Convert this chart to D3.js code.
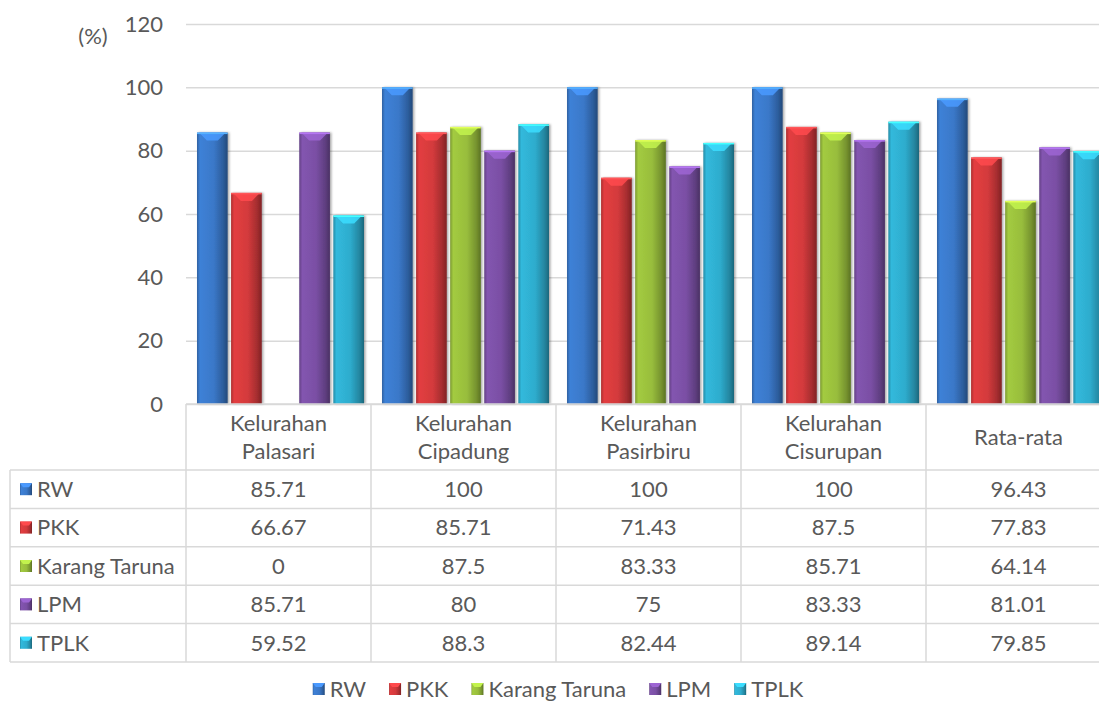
<!DOCTYPE html>
<html>
<head>
<meta charset="utf-8">
<script src="https://cdn.jsdelivr.net/npm/d3@7"></script>
<style>
  body { margin: 0; background: #fff; }
  svg { display: block; font-family: Lato, "Open Sans", sans-serif; }
</style>
</head>
<body>
<svg id="chart"></svg>
<script>
var categories = [["Kelurahan", "Palasari"], ["Kelurahan", "Cipadung"], ["Kelurahan", "Pasirbiru"], ["Kelurahan", "Cisurupan"], ["Rata-rata"]];
var seriesNames = ["RW", "PKK", "Karang Taruna", "LPM", "TPLK"];
var rwValues = [85.71, 100, 100, 100, 96.43];
var pkkValues = [66.67, 85.71, 71.43, 87.5, 77.83];
var ktValues = [0, 87.5, 83.33, 85.71, 64.14];
var lpmValues = [85.71, 80, 75, 83.33, 81.01];
var tplkValues = [59.52, 88.3, 82.44, 89.14, 79.85];
var yTicks = [0, 20, 40, 60, 80, 100, 120];

var allValues = [rwValues, pkkValues, ktValues, lpmValues, tplkValues];
var colors = ["#3a78c8", "#d33a3c", "#98bd3c", "#7a4fa4", "#2eaccd"];

var width = 1099, height = 709;
var textColor = "#595959";
var lineColor = "#d9d9d9";
var fontSize = "22px";

var svg = d3.select("#chart").attr("width", width).attr("height", height);

// gradients for bars
var defs = svg.append("defs");
colors.forEach(function (c, i) {
  var g = defs.append("linearGradient").attr("id", "grad" + i)
    .attr("x1", 0).attr("x2", 1).attr("y1", 0).attr("y2", 0);
  g.append("stop").attr("offset", "0%").attr("stop-color", d3.color(c).darker(0.6));
  g.append("stop").attr("offset", "10%").attr("stop-color", d3.color(c).brighter(0.2));
  g.append("stop").attr("offset", "55%").attr("stop-color", c);
  g.append("stop").attr("offset", "85%").attr("stop-color", d3.color(c).darker(0.7));
  g.append("stop").attr("offset", "100%").attr("stop-color", d3.color(c).darker(1.4));
});

var shadow = defs.append("filter").attr("id", "shadow")
  .attr("x", "-20%").attr("y", "-5%").attr("width", "150%").attr("height", "115%");
shadow.append("feDropShadow").attr("dx", 1.5).attr("dy", 0).attr("stdDeviation", 1.2)
  .attr("flood-color", "#000").attr("flood-opacity", 0.35);

var tableLeft = 10, colStart = 186, colWidth = 185;
var x0 = d3.scaleBand().domain(d3.range(categories.length))
  .range([colStart, colStart + colWidth * categories.length]);
var x1 = d3.scaleBand().domain(d3.range(seriesNames.length))
  .range([11, 178]).paddingInner(0.1);
var y = d3.scaleLinear().domain([0, 120]).range([404, 24]);

// gridlines + y labels
var yAxis = svg.append("g")
  .attr("transform", "translate(" + colStart + ",0)")
  .call(d3.axisLeft(y).tickValues(yTicks).tickSize(-(width - colStart)).tickFormat(d3.format("d")));
yAxis.select(".domain").remove();
yAxis.selectAll(".tick line").attr("stroke", lineColor).attr("stroke-width", 1.5);
yAxis.selectAll(".tick text").attr("x", -23).attr("fill", textColor)
  .attr("font-size", fontSize).attr("font-family", "Lato, 'Open Sans', sans-serif");

svg.append("text").text("(%)")
  .attr("x", 93).attr("y", 36).attr("dy", ".35em")
  .attr("text-anchor", "middle").attr("font-size", fontSize).attr("fill", textColor);

// bars
var bars = svg.append("g");
allValues.forEach(function (vals, s) {
  vals.forEach(function (v, i) {
    if (v <= 0) return;
    var bx = x0(i) + x1(s), bw = x1.bandwidth();
    var top = y(v);
    bars.append("rect")
      .attr("x", bx).attr("y", top)
      .attr("width", bw).attr("height", y(0) - top)
      .attr("fill", "url(#grad" + s + ")")
      .attr("filter", "url(#shadow)");
    bars.append("path")
      .attr("d", "M" + (bx + 2) + "," + top + "L" + (bx + bw - 2) + "," + top +
        "L" + (bx + bw * 0.68) + "," + (top + 8) + "L" + (bx + bw * 0.32) + "," + (top + 8) + "Z")
      .attr("fill", d3.color(colors[s]).brighter(0.7))
      .attr("opacity", 0.85);
    bars.append("rect")
      .attr("x", bx).attr("y", top).attr("width", bw).attr("height", 1.5)
      .attr("fill", d3.color(colors[s]).brighter(1.1));
  });
});

// data table
var headerTop = 404, rowTop = 470, rowH = 38.4;
var tableRight = colStart + colWidth * categories.length;
var table = svg.append("g");
var tableBottom = rowTop + rowH * seriesNames.length;

table.append("line").attr("x1", colStart).attr("x2", tableRight)
  .attr("y1", headerTop).attr("y2", headerTop)
  .attr("stroke", lineColor).attr("stroke-width", 1.5);
d3.range(seriesNames.length + 1).forEach(function (r) {
  table.append("line").attr("x1", tableLeft).attr("x2", tableRight)
    .attr("y1", rowTop + r * rowH).attr("y2", rowTop + r * rowH)
    .attr("stroke", lineColor).attr("stroke-width", 1.5);
});
table.append("line").attr("x1", tableLeft).attr("x2", tableLeft)
  .attr("y1", rowTop).attr("y2", tableBottom)
  .attr("stroke", lineColor).attr("stroke-width", 1.5);
d3.range(categories.length + 1).forEach(function (c) {
  var xx = colStart + c * colWidth;
  table.append("line").attr("x1", xx).attr("x2", xx)
    .attr("y1", headerTop).attr("y2", tableBottom)
    .attr("stroke", lineColor).attr("stroke-width", 1.5);
});

categories.forEach(function (lines, i) {
  var cx = x0(i) + x0.bandwidth() / 2;
  var mid = (headerTop + rowTop) / 2;
  lines.forEach(function (t, k) {
    table.append("text").text(t)
      .attr("x", cx).attr("y", mid + (k - (lines.length - 1) / 2) * 28)
      .attr("dy", ".35em").attr("text-anchor", "middle")
      .attr("font-size", fontSize).attr("fill", textColor);
  });
});

function marker(g, xx, yy, s) {
  g.append("rect").attr("x", xx).attr("y", yy - 6).attr("width", 12).attr("height", 12)
    .attr("fill", "url(#grad" + s + ")");
  g.append("path")
    .attr("d", "M" + xx + "," + (yy - 6) + "L" + (xx + 12) + "," + (yy - 6) + "L" + (xx + 9) + "," + (yy - 2) + "L" + (xx + 3) + "," + (yy - 2) + "Z")
    .attr("fill", d3.color(colors[s]).brighter(0.7));
}

seriesNames.forEach(function (name, s) {
  var cy = rowTop + s * rowH + rowH / 2;
  marker(table, 20, cy, s);
  table.append("text").text(name)
    .attr("x", 37).attr("y", cy).attr("dy", ".35em")
    .attr("font-size", fontSize).attr("fill", textColor);
  allValues[s].forEach(function (v, i) {
    table.append("text").text(v)
      .attr("x", x0(i) + x0.bandwidth() / 2).attr("y", cy).attr("dy", ".35em")
      .attr("text-anchor", "middle").attr("font-size", fontSize).attr("fill", textColor);
  });
});

// legend
var legend = svg.append("g");
var legendY = 689;
var lx = 0;
seriesNames.forEach(function (name, s) {
  marker(legend, lx, legendY, s);
  var t = legend.append("text").text(name)
    .attr("x", lx + 17).attr("y", legendY).attr("dy", ".35em")
    .attr("font-size", fontSize).attr("fill", textColor);
  lx += 17 + t.node().getComputedTextLength() + 23;
});
var legendW = lx - 23;
legend.attr("transform", "translate(" + (558 - legendW / 2) + ",0)");
</script>
</body>
</html>
